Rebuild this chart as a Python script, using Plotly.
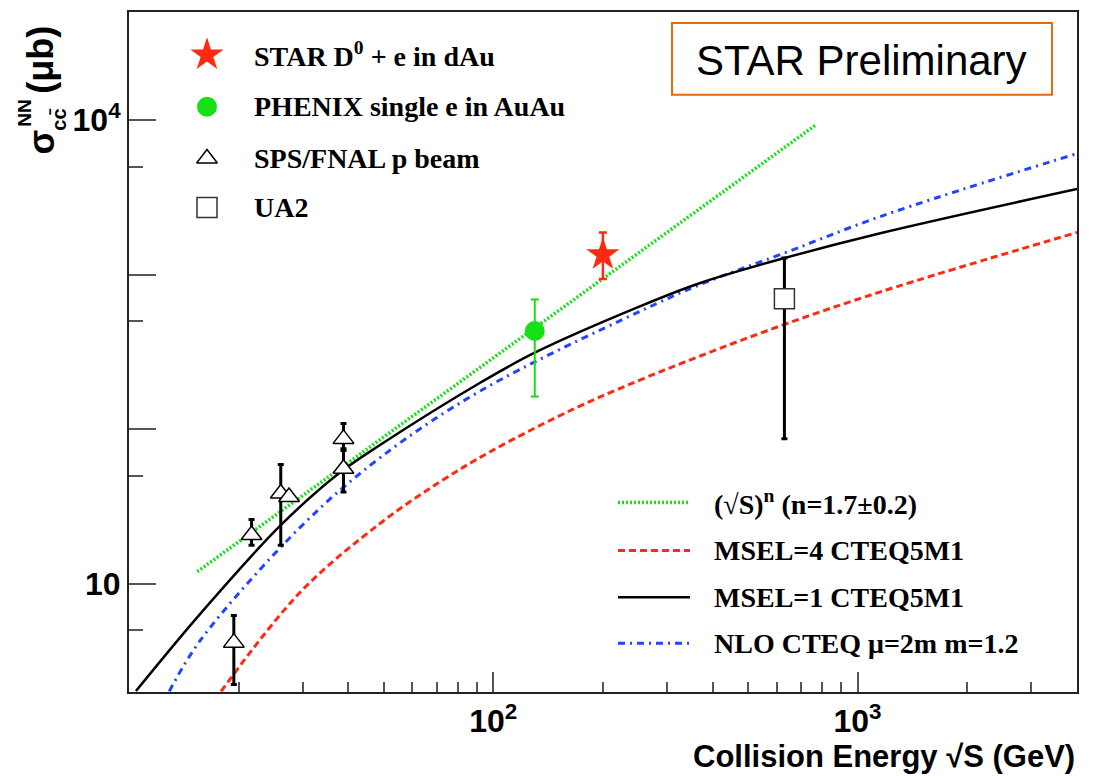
import plotly.graph_objects as go

# ---------------- data ----------------
# theory curves: collision energy sqrt(s) [GeV] vs sigma_cc [micro-barn]
power_x = [15.4, 766]
power_y = [12.0, 9260]
msel4_x = [17.9, 29.6, 49.1, 71.7, 98.3, 164.7, 253.5, 370, 630, 1155, 4006]
msel4_y = [2.02, 8.9, 24.8, 46.0, 71.8, 134, 209, 298, 477, 774, 1876]
msel1_x = [10.45, 15.75, 26.1, 38.1, 49.1, 92.3, 130, 253.5, 370, 630, 1155, 4006]
msel1_y = [2.03, 6.48, 24.0, 52.9, 79.7, 200.7, 313, 626, 884, 1281, 1855, 3584]
nlo_x = [12.9, 15.75, 29.6, 49.1, 92.3, 253.5, 370, 630, 1155, 4006]
nlo_y = [2.02, 4.36, 23.4, 66.0, 177.5, 581, 864, 1380, 2377, 6077]

# measurements (value, upper end, lower end of error bar)
star_x, star_y, star_hi, star_lo = [200], [1347], [1875], [938]
phenix_x, phenix_y, phenix_hi, phenix_lo = [130], [432], [691], [163]
sps_x = [19.4, 21.7, 26.1, 27.5, 38.8, 38.8]
sps_y = [4.17, 20.7, 38.4, 36.5, 86.7, 55.6]
sps_hi = [6.25, 26.1, 59.2, 36.5, 109, 75.0]
sps_lo = [2.24, 17.8, 17.8, 36.5, 72.9, 39.3]
ua2_x, ua2_y, ua2_hi, ua2_lo = [630], [697.6], [1281], [86.8]

# axis ticks
x_major = [10, 100, 1000]
x_major_text = ["", "10<sup>2</sup>", "10<sup>3</sup>"]
x_minor = [20, 30, 40, 50, 60, 70, 80, 90, 200, 300, 400, 500, 600, 700, 800, 900, 2000, 3000]
y_major = [10, 100, 1000, 10000]
y_major_text = ["10", "", "", "10<sup>4</sup>"]
y_minor = [5, 50, 500, 5000]

marker_labels = ["STAR D<sup>0</sup> + e in dAu", "PHENIX single e in AuAu",
                 "SPS/FNAL p beam", "UA2"]
line_labels = ["(√S)<sup>n</sup> (n=1.7±0.2)", "MSEL=4 CTEQ5M1",
               "MSEL=1 CTEQ5M1", "NLO CTEQ μ=2m m=1.2"]

# ---------------- styles ----------------
GREEN = "#14e014"
RED = "#ff2a10"
BLUE = "#2244ff"
BLACK = "#000000"
SANS = "Liberation Sans, Arial, Helvetica, sans-serif"
SERIF = "Liberation Serif, Times New Roman, serif"

W, H = 1093, 776
L, R, T, B = 129, 1077, 10, 692


def pxx(x):
    return (x - L) / (R - L)


def pxy(y):
    return (B - y) / (B - T)


def err(vals, hi, lo):
    return dict(type="data", symmetric=False,
                array=[h - v for v, h in zip(vals, hi)],
                arrayminus=[v - l for v, l in zip(vals, lo)])


fig = go.Figure()

# theory curves
fig.add_trace(go.Scatter(x=power_x, y=power_y, mode="lines",
                         line=dict(color=GREEN, width=3.5, dash="2px,2px")))
fig.add_trace(go.Scatter(x=msel4_x, y=msel4_y, mode="lines",
                         line=dict(color=RED, width=3, dash="7px,4px", shape="spline", smoothing=1.0)))
fig.add_trace(go.Scatter(x=nlo_x, y=nlo_y, mode="lines",
                         line=dict(color=BLUE, width=3, dash="7px,5px,2px,5px", shape="spline", smoothing=1.0)))
fig.add_trace(go.Scatter(x=msel1_x, y=msel1_y, mode="lines",
                         line=dict(color=BLACK, width=2.5, shape="spline", smoothing=1.0)))

# data points
e = err(sps_y, sps_hi, sps_lo)
e.update(color=BLACK, thickness=3, width=3)
fig.add_trace(go.Scatter(x=sps_x, y=sps_y, mode="markers", error_y=e,
                         marker=dict(symbol="triangle-up", size=18, color="white",
                                     line=dict(color=BLACK, width=1.5))))
e = err(ua2_y, ua2_hi, ua2_lo)
e.update(color=BLACK, thickness=3, width=3)
fig.add_trace(go.Scatter(x=ua2_x, y=ua2_y, mode="markers", error_y=e,
                         marker=dict(symbol="square", size=20, color="white",
                                     line=dict(color="#333333", width=1.5))))
e = err(phenix_y, phenix_hi, phenix_lo)
e.update(color=GREEN, thickness=2, width=4)
fig.add_trace(go.Scatter(x=phenix_x, y=phenix_y, mode="markers", error_y=e,
                         marker=dict(symbol="circle", size=20, color=GREEN)))
e = err(star_y, star_hi, star_lo)
e.update(color=RED, thickness=2.5, width=4)
fig.add_trace(go.Scatter(x=star_x, y=star_y, mode="markers", error_y=e,
                         marker=dict(symbol="star", size=25, color=RED, line=dict(width=0))))

# ---------------- hand-made legends (pixel overlay axes) ----------------
leg1_x, leg1_rows = 207, [53, 105, 157, 206]
leg1_syms = [dict(symbol="star", size=25, color=RED, line=dict(width=0)),
             dict(symbol="circle", size=20, color=GREEN),
             dict(symbol="triangle-up", size=18, color="white", line=dict(color=BLACK, width=1.5)),
             dict(symbol="square", size=20, color="white", line=dict(color="#333333", width=1.5))]
for yy, ms in zip(leg1_rows, leg1_syms):
    fig.add_trace(go.Scatter(x=[leg1_x], y=[yy], mode="markers", marker=ms,
                             xaxis="x2", yaxis="y2"))

leg2_x0, leg2_x1, leg2_rows = 618, 690, [502, 550, 597, 643]
leg2_lines = [dict(color=GREEN, width=3.5, dash="2px,2px"),
              dict(color=RED, width=3, dash="7px,4px"),
              dict(color=BLACK, width=2.5),
              dict(color=BLUE, width=3, dash="7px,5px,2px,5px")]
for yy, ln in zip(leg2_rows, leg2_lines):
    fig.add_trace(go.Scatter(x=[leg2_x0, leg2_x1], y=[yy, yy], mode="lines", line=ln,
                             xaxis="x2", yaxis="y2"))

ann = []
for yy, txt in zip(leg1_rows, marker_labels):
    ann.append(dict(x=pxx(252), y=pxy(yy), xref="paper", yref="paper", text=txt,
                    showarrow=False, xanchor="left", yanchor="middle",
                    font=dict(family=SERIF, size=28, color=BLACK, weight="bold")))
for yy, txt in zip(leg2_rows, line_labels):
    ann.append(dict(x=pxx(712), y=pxy(yy), xref="paper", yref="paper", text=txt,
                    showarrow=False, xanchor="left", yanchor="middle",
                    font=dict(family=SERIF, size=28, color=BLACK, weight="bold")))

# STAR Preliminary box
ann.append(dict(x=pxx(861), y=pxy(59), xref="paper", yref="paper", text="STAR Preliminary",
                showarrow=False, xanchor="center", yanchor="middle",
                font=dict(family=SANS, size=42, color=BLACK)))
shapes = [dict(type="rect", xref="paper", yref="paper", x0=pxx(672), x1=pxx(1052),
               y0=pxy(93), y1=pxy(21), line=dict(color="#e36c0a", width=2),
               fillcolor="white", layer="below")]

# axis titles
ann.append(dict(x=pxx(1077), y=pxy(757), xref="paper", yref="paper",
                text="Collision Energy √S (GeV)", showarrow=False,
                xanchor="right", yanchor="middle",
                font=dict(family=SANS, size=31, color=BLACK, weight="bold")))
ann.append(dict(x=pxx(41), y=pxy(58), xref="paper", yref="paper", text="(μb)",
                showarrow=False, textangle=-90, xanchor="center", yanchor="middle",
                font=dict(family=SANS, size=36, color=BLACK, weight="bold")))
ann.append(dict(x=pxx(42), y=pxy(141), xref="paper", yref="paper", text="σ",
                showarrow=False, textangle=-90, xanchor="center", yanchor="middle",
                font=dict(family=SANS, size=36, color=BLACK, weight="bold")))
ann.append(dict(x=pxx(25), y=pxy(112), xref="paper", yref="paper", text="NN",
                showarrow=False, textangle=-90, xanchor="center", yanchor="middle",
                font=dict(family=SANS, size=19, color=BLACK, weight="bold")))
ann.append(dict(x=pxx(59), y=pxy(118), xref="paper", yref="paper", text="cc\u0304",
                showarrow=False, textangle=-90, xanchor="center", yanchor="middle",
                font=dict(family=SANS, size=20, color=BLACK, weight="bold")))

axis_common = dict(showline=True, linecolor="#222222", linewidth=2, mirror=True,
                   ticks="inside", tickcolor="#555555", tickwidth=2,
                   showgrid=False, zeroline=False,
                   tickfont=dict(family=SANS, size=32, color=BLACK, weight="bold"))

fig.update_layout(
    width=W, height=H,
    margin=dict(l=L, r=W - R, t=T, b=H - B, pad=0),
    paper_bgcolor="white", plot_bgcolor="white",
    showlegend=False,
    xaxis=dict(type="log", range=[1, 3.6026], tickmode="array", tickvals=x_major,
               ticktext=x_major_text, ticklen=20,
               minor=dict(tickmode="array", tickvals=x_minor, ticklen=10, ticks="inside",
                          tickcolor="#555555", tickwidth=2),
               **axis_common),
    yaxis=dict(type="log", range=[0.30103, 4.69897], tickmode="array", tickvals=y_major,
               ticktext=y_major_text, ticklen=27,
               minor=dict(tickmode="array", tickvals=y_minor, ticklen=14, ticks="inside",
                          tickcolor="#555555", tickwidth=2),
               **axis_common),
    xaxis2=dict(overlaying="x", range=[L, R], visible=False, fixedrange=True),
    yaxis2=dict(overlaying="y", range=[B, T], visible=False, fixedrange=True),
    annotations=ann,
    shapes=shapes,
)

fig.write_html("out.html")
